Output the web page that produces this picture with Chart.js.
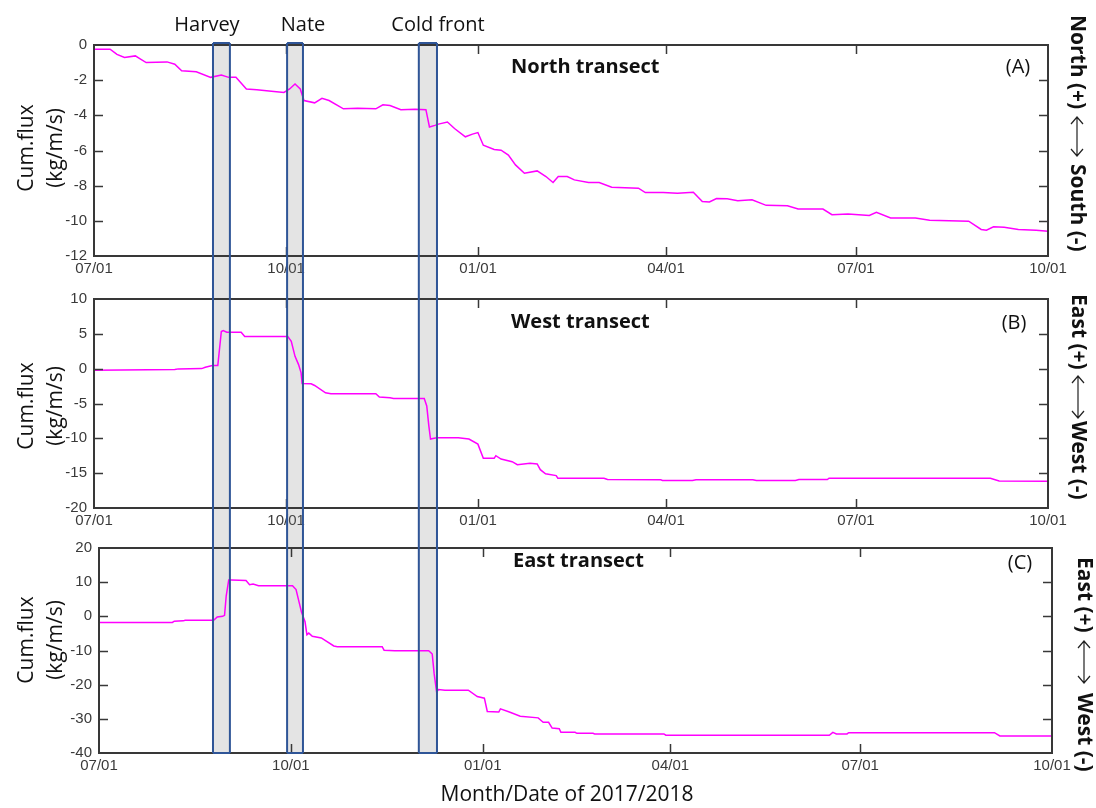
<!DOCTYPE html>
<html><head><meta charset="utf-8">
<script src="https://cdn.jsdelivr.net/npm/chart.js@4.4.1/dist/chart.umd.min.js"></script>
<style>
html,body{margin:0;padding:0;background:#fff;}
#wrap{position:relative;width:1096px;height:808px;overflow:hidden;background:#fff;}
canvas{position:absolute;left:0;}
</style></head><body>
<div id="wrap">
<canvas id="cA"></canvas>
<canvas id="cB"></canvas>
<canvas id="cC"></canvas>
</div>
<script>
// ---------- data ----------
const tickDays = [0, 92, 184, 274, 365, 457];
const tickLabels = ['07/01', '10/01', '01/01', '04/01', '07/01', '10/01'];

const eventNames = ['Harvey', 'Nate', 'Cold front'];
const eventStart = [57.0, 92.5, 155.6];
const eventEnd = [65.1, 100.1, 164.3];

const northDays = [0,7.7,11,14.6,19.8,22.3,25,35,38.7,42,49,55.9,61,64.5,68,73,78,85,91,93.7,96.3,98.8,100.6,105.7,109.2,112.6,119.5,126.3,135,138.4,141.8,147,153.8,159,160.7,163.3,165,169.3,172.7,177.9,181.3,183.9,186.5,191.7,195,198.5,201.9,206.2,212.3,216.5,219.9,222.4,226.7,230.1,236.9,242,248,260.8,264.1,272.7,279.5,287.1,291.4,294.8,298.2,303.3,308.4,315.2,322,332.2,337.3,349.2,353.5,361.2,371.4,374.8,381.6,393.5,400.3,419,425,427.5,430.9,436,442.8,451.3,457];
const northVals = [-0.24,-0.24,-0.53,-0.71,-0.62,-0.8,-1.0,-0.96,-1.09,-1.47,-1.52,-1.84,-1.71,-1.84,-1.84,-2.5,-2.54,-2.63,-2.7,-2.5,-2.22,-2.5,-3.16,-3.29,-3.03,-3.16,-3.63,-3.6,-3.63,-3.4,-3.44,-3.68,-3.65,-3.68,-4.66,-4.57,-4.5,-4.38,-4.75,-5.22,-5.07,-4.98,-5.7,-5.94,-5.98,-6.26,-6.82,-7.29,-7.16,-7.48,-7.82,-7.48,-7.48,-7.67,-7.82,-7.82,-8.09,-8.14,-8.39,-8.39,-8.43,-8.37,-8.9,-8.93,-8.73,-8.75,-8.86,-8.8,-9.12,-9.14,-9.33,-9.33,-9.65,-9.61,-9.7,-9.52,-9.84,-9.84,-9.97,-10.02,-10.49,-10.53,-10.34,-10.36,-10.49,-10.53,-10.59];

const westDays = [0,38.7,40.4,51.6,53.3,56.7,59.3,61,61.9,63.6,70.5,72.2,92.8,94.5,96.3,98,99.2,99.7,104,105.7,110.9,113.5,135,136.7,141.8,143.5,158.2,159.4,160.4,161.2,162.4,164.2,174.5,179.6,183.9,186.5,191.7,192.5,195,200.3,202.8,208.9,212.3,213.8,216.3,221.4,222.2,244.3,246,271.5,272.3,286.7,288.4,315.6,317.3,336,337.7,351.3,352.1,429.4,433.6,457];
const westVals = [-0.22,-0.13,-0.03,0.01,0.2,0.44,0.44,5.34,5.48,5.24,5.24,4.63,4.63,3.91,1.77,0.58,-0.6,-2.12,-2.17,-2.41,-3.46,-3.6,-3.6,-4.08,-4.17,-4.27,-4.27,-5.36,-8.21,-10.11,-10.02,-9.92,-9.92,-10.11,-10.83,-12.87,-12.87,-12.49,-12.97,-13.35,-13.78,-13.59,-13.68,-14.5,-15.1,-15.35,-15.73,-15.73,-15.92,-15.96,-16.06,-16.06,-15.96,-15.96,-16.06,-16.06,-15.92,-15.92,-15.73,-15.73,-16.11,-16.15];

const eastDays = [0,35.2,36.1,40.4,41.3,55,56.7,59.3,60.2,61,62.2,63.6,70.5,72.2,73.9,76.5,92.8,94.5,97.1,98.8,99.7,100.6,102.3,106.6,112.6,114.3,135.8,136.7,141.8,158.1,159.8,160.7,161.9,162.8,165.9,177.1,181.4,184.8,186.2,191.7,192.5,196.8,202,210.6,213,215.6,217.3,220.7,221.5,228.3,229.2,236.9,237.7,270.9,271.8,350.2,351.9,353.6,358.7,359.5,429.4,432,457];
const eastVals = [-1.79,-1.79,-1.42,-1.32,-1.13,-1.13,-0.19,0,0.28,5.94,10.66,10.66,10.47,9.25,9.43,8.96,8.96,7.83,1.23,-1.6,-5.38,-4.9,-5.85,-6.32,-8.68,-8.87,-8.87,-9.9,-10.09,-10.09,-11.04,-16.7,-22.17,-21.42,-21.6,-21.6,-23.49,-23.96,-27.83,-28.02,-27.08,-28.02,-29.25,-29.72,-31,-31,-32.7,-32.9,-33.96,-33.96,-34.25,-34.25,-34.43,-34.43,-34.8,-34.8,-33.96,-34.43,-34.43,-34.06,-34.06,-35,-35];

const yTitleLines = ['Cum.flux', '(kg/m/s)'];
const xTitle = 'Month/Date of 2017/2018';

// ---------- layout / style ----------
const W = 1096;
const EVENT_TOP = 43, EVENT_BOTTOM = 753;
const TXT = '#111';
const TICKCOL = '#3a3a3a';
const panels = [
  {id:'cA', top:0, h:282, l:94, r:1048, t:45, b:256, min:-12, max:0, step:2,
   days:northDays, vals:northVals, title:'North transect', titleX:511, titleY:67,
   tag:'(A)', tagX:1018, tagY:67, yTitleY:148,
   side1:'North (+)', side2:'South (-)', sideX:1077, s1:15, a0:117, a1:156, s2:164},
  {id:'cB', top:282, h:250, l:94, r:1048, t:299, b:508, min:-20, max:10, step:5,
   days:westDays, vals:westVals, title:'West transect', titleX:511, titleY:322,
   tag:'(B)', tagX:1014, tagY:323, yTitleY:406,
   side1:'East (+)', side2:'West (-)', sideX:1078, s1:294, a0:376, a1:418, s2:421},
  {id:'cC', top:532, h:276, l:99, r:1052, t:542, b:753, min:-40, max:20, step:10,
   days:eastDays, vals:eastVals, title:'East transect', titleX:513, titleY:561,
   tag:'(C)', tagX:1020, tagY:563, yTitleY:640,
   side1:'East (+)', side2:'West (-)', sideX:1084, s1:557, a0:641, a1:683, s2:693}
];
const eventLabelX = [207, 303, 438];
let refX = null; // x scale of panel A, shared by the event boxes

function makeChart(p, idx) {
  const canvas = document.getElementById(p.id);
  canvas.width = W; canvas.height = p.h;
  canvas.style.top = p.top + 'px';
  const pts = p.days.map((d, i) => ({x: d, y: p.vals[i]}));
  const oy = p.top;
  const overlay = {
    id: 'overlay' + idx,
    beforeDatasetsDraw(chart) {
      const ctx = chart.ctx, xs = refX || chart.scales.x;
      ctx.save();
      ctx.fillStyle = 'rgba(120,120,120,0.2)';
      for (let i = 0; i < eventStart.length; i++) {
        const x0 = xs.getPixelForValue(eventStart[i]), x1 = xs.getPixelForValue(eventEnd[i]);
        const y0 = Math.max(0, EVENT_TOP - oy), y1 = Math.min(p.h, EVENT_BOTTOM - oy);
        ctx.fillRect(x0, y0, x1 - x0, y1 - y0);
      }
      ctx.restore();
    },
    afterDraw(chart) {
      const ctx = chart.ctx, ca = chart.chartArea, xs = chart.scales.x, ysc = chart.scales.y;
      ctx.save();
      // frame
      ctx.strokeStyle = '#383838'; ctx.lineWidth = 2;
      ctx.strokeRect(ca.left, ca.top, ca.right - ca.left, ca.bottom - ca.top);
      // inward ticks
      ctx.lineWidth = 1.5;
      ctx.beginPath();
      const TL = 9;
      xs.ticks.forEach(t => {
        const x = Math.round(xs.getPixelForValue(t.value)) + 0.5;
        if (x <= ca.left + 2 || x >= ca.right - 2) return;
        ctx.moveTo(x, ca.bottom); ctx.lineTo(x, ca.bottom - TL);
        ctx.moveTo(x, ca.top); ctx.lineTo(x, ca.top + TL);
      });
      ysc.ticks.forEach(t => {
        const y = Math.round(ysc.getPixelForValue(t.value)) + 0.5;
        if (y <= ca.top + 2 || y >= ca.bottom - 2) return;
        ctx.moveTo(ca.left, y); ctx.lineTo(ca.left + TL, y);
        ctx.moveTo(ca.right, y); ctx.lineTo(ca.right - TL, y);
      });
      ctx.stroke();
      // event box outlines
      const ex = refX || xs;
      ctx.strokeStyle = '#2f5597'; ctx.lineWidth = 2;
      for (let i = 0; i < eventStart.length; i++) {
        const x0 = ex.getPixelForValue(eventStart[i]), x1 = ex.getPixelForValue(eventEnd[i]);
        const y0 = Math.max(-2, EVENT_TOP - oy), y1 = Math.min(p.h + 2, EVENT_BOTTOM - oy);
        ctx.beginPath();
        ctx.moveTo(x0, y0); ctx.lineTo(x0, y1);
        ctx.moveTo(x1, y0); ctx.lineTo(x1, y1);
        if (EVENT_TOP - oy >= 0) { ctx.moveTo(x0, y0); ctx.lineTo(x1, y0); }
        if (EVENT_BOTTOM - oy <= p.h) { ctx.moveTo(x0, y1); ctx.lineTo(x1, y1); }
        ctx.stroke();
      }
      // texts
      ctx.fillStyle = TXT;
      ctx.textBaseline = 'middle';
      ctx.font = 'bold 20px "Open Sans"';
      ctx.textAlign = 'left';
      ctx.fillText(p.title, p.titleX, p.titleY - oy);
      ctx.font = '20px "Open Sans"';
      ctx.textAlign = 'center';
      ctx.fillText(p.tag, p.tagX, p.tagY - oy);
      // y title (two rotated lines)
      ctx.font = '21px "Open Sans"';
      [27, 56].forEach((x, k) => {
        ctx.save();
        ctx.translate(x, p.yTitleY - oy);
        ctx.rotate(-Math.PI / 2);
        ctx.fillText(yTitleLines[k], 0, 0);
        ctx.restore();
      });
      // right side direction label (reads top to bottom)
      ctx.save();
      ctx.translate(p.sideX, 0);
      ctx.rotate(Math.PI / 2);
      ctx.font = 'bold 21px "Open Sans"';
      ctx.textAlign = 'left';
      ctx.fillText(p.side1, p.s1 - oy, 0);
      ctx.fillText(p.side2, p.s2 - oy, 0);
      // double arrow
      const a0 = p.a0 - oy, a1 = p.a1 - oy, hw = 6, hl = 7;
      ctx.strokeStyle = '#222'; ctx.lineWidth = 1.2;
      ctx.beginPath();
      ctx.moveTo(a0, 0); ctx.lineTo(a1, 0);
      ctx.moveTo(a0 + hl, -hw); ctx.lineTo(a0, 0); ctx.lineTo(a0 + hl, hw);
      ctx.moveTo(a1 - hl, -hw); ctx.lineTo(a1, 0); ctx.lineTo(a1 - hl, hw);
      ctx.stroke();
      ctx.restore();
      // event labels (top panel) and x title (bottom panel)
      ctx.textAlign = 'center';
      ctx.font = '20px "Open Sans"';
      if (idx === 0) {
        eventNames.forEach((n, i) => ctx.fillText(n, eventLabelX[i], 25 - oy));
      }
      if (idx === 2) {
        ctx.font = '21px "Open Sans"';
        ctx.fillText(xTitle, 567, 795 - oy);
      }
      ctx.restore();
    }
  };
  const chart = new Chart(canvas, {
    type: 'line',
    data: {datasets: [{data: pts, borderColor: '#ff00ff', borderWidth: 1.5, pointRadius: 0, tension: 0, fill: false}]},
    options: {
      responsive: false, animation: false, devicePixelRatio: 1,
      parsing: false,
      layout: {padding: {left: p.l - 60, right: W - p.r, top: p.t - p.top, bottom: p.h - (p.b - p.top) - 22}},
      plugins: {legend: {display: false}, tooltip: {enabled: false}},
      scales: {
        x: {
          type: 'linear', min: 0, max: 457,
          afterFit(s) { s.height = 22; },
          afterBuildTicks(s) { s.ticks = tickDays.map(v => ({value: v})); },
          grid: {display: false, drawTicks: false}, border: {display: false},
          ticks: {autoSkip: false, maxRotation: 0, minRotation: 0, padding: 4, color: TICKCOL,
                  font: {family: 'Liberation Sans', size: 15},
                  callback: (v, i) => tickLabels[i]}
        },
        y: {
          type: 'linear', min: p.min, max: p.max,
          afterFit(s) { s.width = 60; },
          grid: {display: false, drawTicks: false}, border: {display: false},
          ticks: {stepSize: p.step, padding: 7, color: TICKCOL, font: {family: 'Liberation Sans', size: 15}}
        }
      }
    },
    plugins: [overlay]
  });
  return chart;
}

const chartA = makeChart(panels[0], 0);
refX = chartA.scales.x;
chartA.draw();
makeChart(panels[1], 1);
makeChart(panels[2], 2);
</script>
</body></html>
